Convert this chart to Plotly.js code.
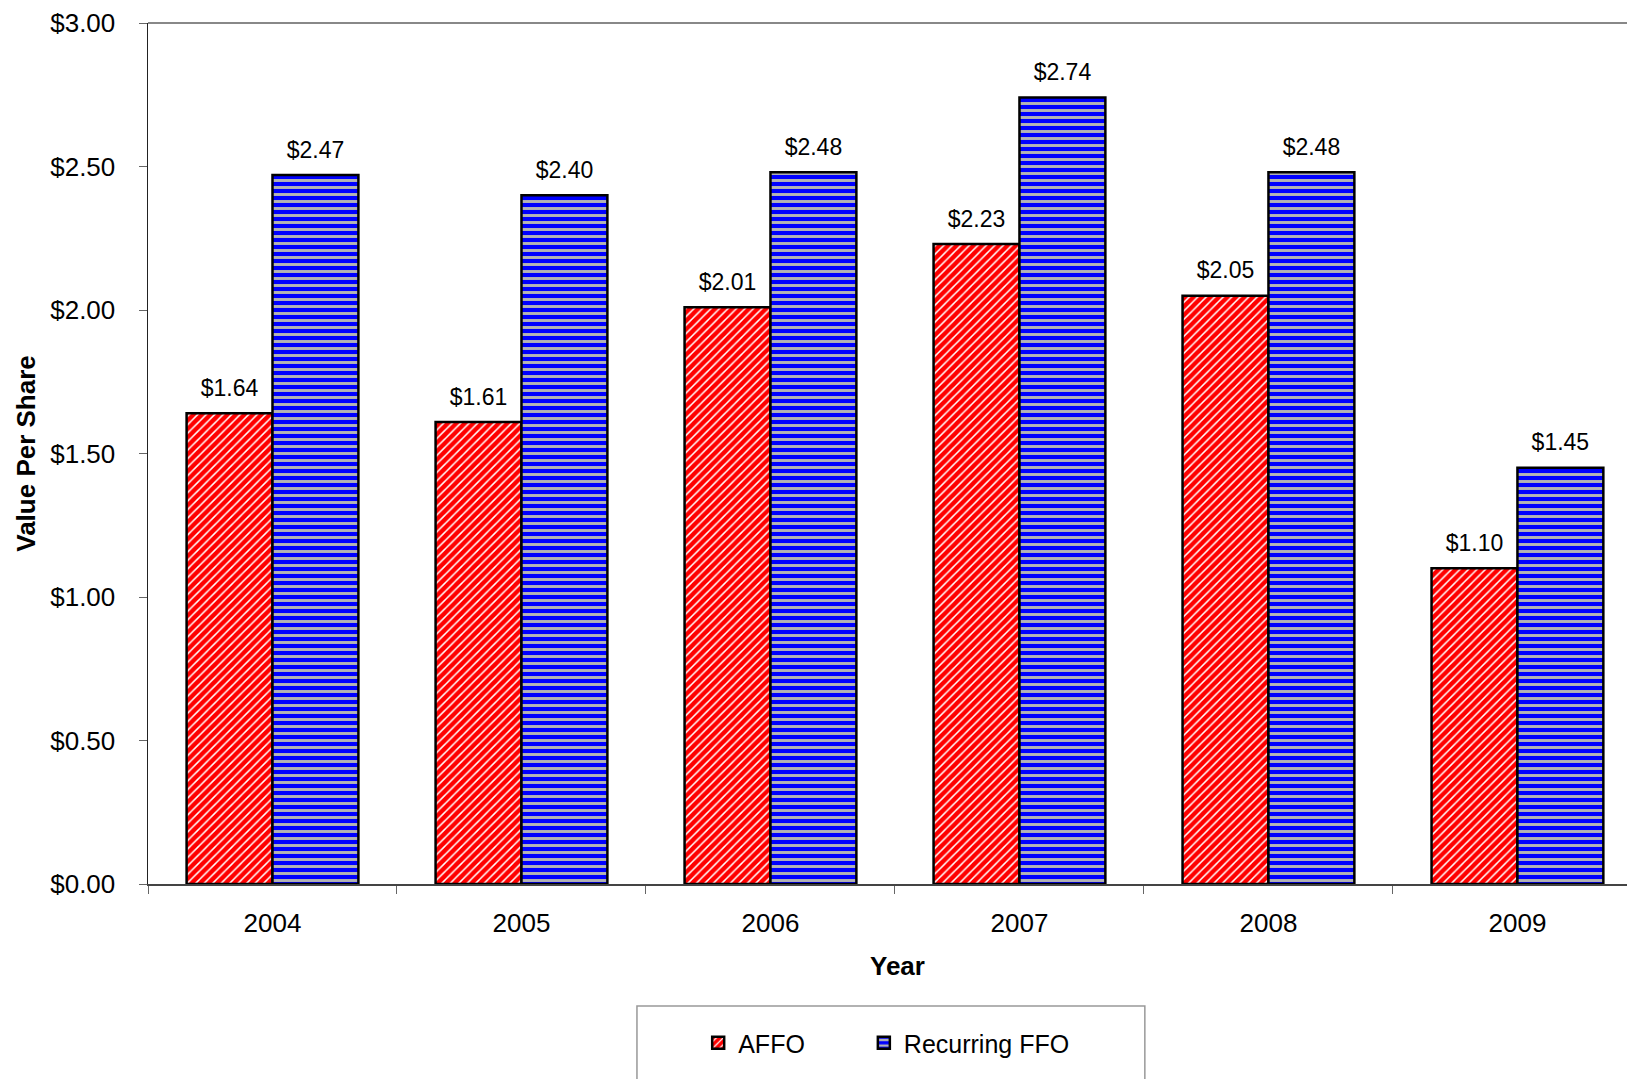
<!DOCTYPE html>
<html>
<head>
<meta charset="utf-8">
<script src="https://cdn.plot.ly/plotly-3.0.1.min.js"></script>
<style>html,body{margin:0;padding:0;background:#fff;}#chart{width:1627px;height:1079px;}</style>
</head>
<body>
<div id="chart"></div>
<script>
const years = ['2004', '2005', '2006', '2007', '2008', '2009'];
const affo = [1.64, 1.61, 2.01, 2.23, 2.05, 1.10];
const recurringFfo = [2.47, 2.40, 2.48, 2.74, 2.48, 1.45];
const seriesNames = ['AFFO', 'Recurring FFO'];
const yTicks = [0, 0.5, 1.0, 1.5, 2.0, 2.5, 3.0];

const FONT = 'Liberation Sans, Arial, sans-serif';

function labelTrace(vals, group) {
  return {
    type: 'scatter', mode: 'markers+text', x: years, y: vals,
    offsetgroup: group, alignmentgroup: 'lbl',
    marker: {size: 17, opacity: 0, color: '#fff'},
    texttemplate: '$%{y:.2f}', textposition: 'top center',
    textfont: {family: FONT, size: 23, color: '#000'},
    showlegend: false, hoverinfo: 'skip', cliponaxis: false
  };
}

const traces = [
  {
    type: 'bar', name: seriesNames[0], x: years, y: affo, legend: 'legend',
    offsetgroup: 'a', alignmentgroup: 'bars',
    marker: {
      color: '#FF0000',
      line: {color: '#000000', width: 2.5},
      pattern: {shape: '/', bgcolor: '#FF0000', fgcolor: '#FFFFFF', size: 6, solidity: 0.25, fillmode: 'replace'}
    },
    hoverinfo: 'skip'
  },
  {
    type: 'bar', name: seriesNames[1], x: years, y: recurringFfo, legend: 'legend2',
    offsetgroup: 'b', alignmentgroup: 'bars',
    marker: {
      color: '#0000FF',
      line: {color: '#000000', width: 2.5},
      pattern: {shape: '-', bgcolor: '#0000FF', fgcolor: '#B4B4B4', size: 7, solidity: 0.42, fillmode: 'replace'}
    },
    hoverinfo: 'skip'
  },
  labelTrace(affo, 'a'),
  labelTrace(recurringFfo, 'b')
];

const legendBase = {
  orientation: 'h', xanchor: 'left', yanchor: 'top', y: -0.158,
  font: {family: FONT, size: 25, color: '#000'},
  bgcolor: 'rgba(0,0,0,0)', borderwidth: 0
};

const layout = {
  width: 1627, height: 1079,
  margin: {l: 148, r: 0, t: 23, b: 195, pad: 0},
  paper_bgcolor: '#fff', plot_bgcolor: '#fff',
  font: {family: FONT, color: '#000'},
  barmode: 'group', bargap: 0.31, bargroupgap: 0,
  scattermode: 'group', scattergap: 0.31,
  showlegend: true,
  legend: Object.assign({}, legendBase, {x: 0.372}),
  legend2: Object.assign({}, legendBase, {x: 0.484}),
  xaxis: {
    type: 'category', range: [-0.5, 5.44],
    tickson: 'boundaries', ticks: 'outside', ticklen: 8, tickcolor: '#666',
    showline: true, linecolor: '#444', linewidth: 1.5,
    showgrid: false, zeroline: false,
    tickfont: {family: FONT, size: 26, color: '#000'},
    ticklabelstandoff: 15,
    fixedrange: true
  },
  yaxis: {
    range: [0, 3], tickvals: yTicks, tickformat: '$.2f',
    ticks: 'outside', ticklen: 8, tickcolor: '#666',
    showline: true, linecolor: '#222', linewidth: 1.5,
    showgrid: false, zeroline: false,
    tickfont: {family: FONT, size: 26, color: '#000'},
    ticklabelstandoff: 18,
    title: {text: '<b>Value Per Share</b>', font: {family: FONT, size: 26, color: '#000'}, standoff: 7},
    automargin: false,
    fixedrange: true
  },
  annotations: [
    {text: '<b>Year</b>', xref: 'paper', yref: 'paper', x: 0.507, y: -0.0956, xanchor: 'center', yanchor: 'middle',
     showarrow: false, font: {family: FONT, size: 26, color: '#000'}}
  ],
  shapes: [
    {type: 'line', xref: 'paper', yref: 'paper', x0: 0, x1: 1, y0: 1, y1: 1, line: {color: '#888', width: 2}},
    {type: 'rect', xref: 'paper', yref: 'paper', x0: 0.3306, x1: 0.674, y0: -0.1417, y1: -0.30, line: {color: '#999', width: 1.5}, fillcolor: 'rgba(0,0,0,0)', layer: 'below'}
  ]
};

Plotly.newPlot('chart', traces, layout, {displayModeBar: false, staticPlot: true});
</script>
</body>
</html>
